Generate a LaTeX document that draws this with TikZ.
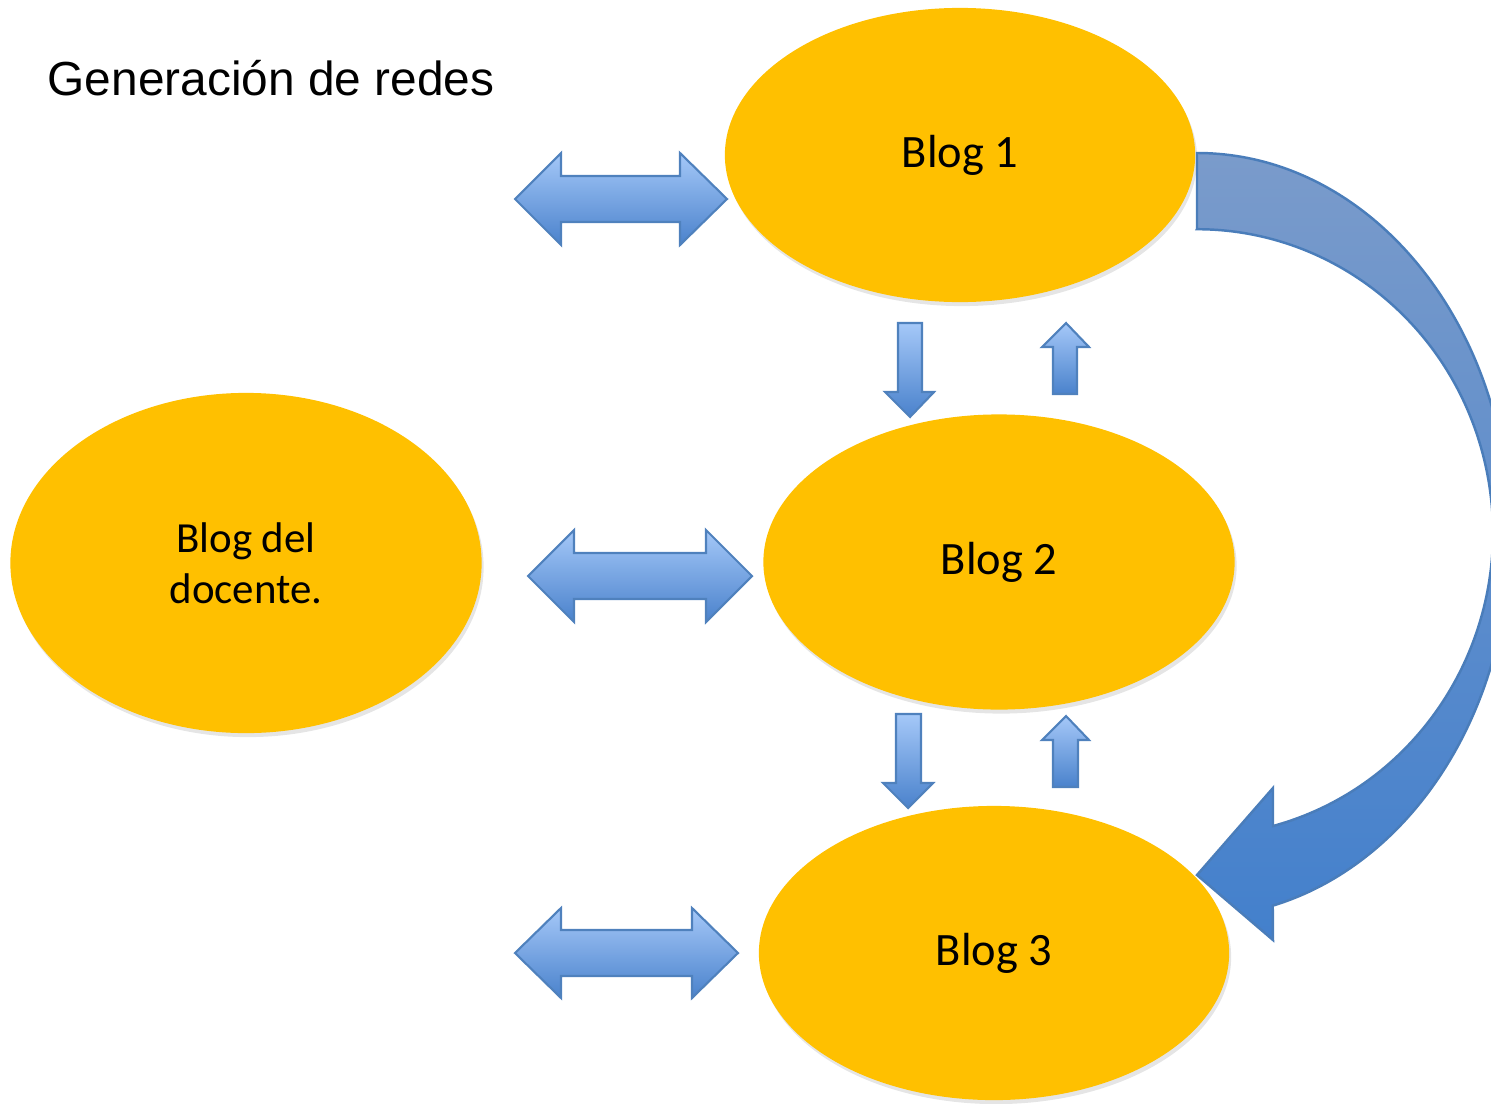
\documentclass[tikz,border=0pt]{standalone}
\usepackage{fontspec}
\setmainfont{Carlito}
\newfontfamily\arialf{Liberation Sans}
\usetikzlibrary{shapes.geometric}
\definecolor{gold}{HTML}{FFC000}
\definecolor{arrline}{HTML}{4F81BD}
\definecolor{arrlight}{HTML}{A5C8F8}
\definecolor{arrdark}{HTML}{4A82CC}
\definecolor{bigtop}{HTML}{7A9BCB}
\definecolor{bigbot}{HTML}{4380CC}
\definecolor{bigline}{HTML}{4A7DBA}
\begin{document}
\begin{tikzpicture}[x=0.01cm,y=-0.01cm,
  blob/.style={ellipse, fill=gold, draw=none, inner sep=0pt, align=center,
    font=\fontsize{13.2}{15.6}\selectfont},
  blobshadow/.style={ellipse, fill=black, opacity=0.10, draw=none, inner sep=0pt},
  blockarrow/.style={draw=arrline, line width=0.6pt, top color=arrlight, bottom color=arrdark, line join=miter},
  bigarrow/.style={draw=bigline, line width=0.7pt, top color=bigtop, bottom color=bigbot, line join=miter}]
\useasboundingbox (0,0) rectangle (1491,1103);

% title
\node[anchor=base west, inner sep=0pt, font=\arialf\fontsize{13.6}{16}\selectfont] (title) at (47,95) {Generación de redes};

% shadows
\node[blobshadow, minimum width=4.70cm, minimum height=2.94cm] (s1) at (962,159) {};
\node[blobshadow, minimum width=4.71cm, minimum height=2.95cm] (s2) at (1001,566) {};
\node[blobshadow, minimum width=4.70cm, minimum height=2.94cm] (s3) at (996,957) {};
\node[blobshadow, minimum width=4.71cm, minimum height=3.40cm] (s0) at (248,567) {};

% ellipses
\node[blob, minimum width=4.70cm, minimum height=2.94cm] (b1) at (960,155) {Blog 1};
\node[blob, minimum width=4.71cm, minimum height=2.95cm] (b2) at (999,562) {Blog 2};
\node[blob, minimum width=4.70cm, minimum height=2.94cm] (b3) at (994,953) {Blog 3};
\node[blob, minimum width=4.71cm, minimum height=3.40cm, font=\fontsize{12.2}{14.4}\selectfont] (b0) at (246,563) {Blog del\\docente.};

% horizontal double arrows
\draw[blockarrow] (515,199) -- (561,153) -- (561,176) -- (680,176) -- (680,153) -- (727,199)
  -- (680,245) -- (680,222) -- (561,222) -- (561,245) -- cycle;
\draw[blockarrow] (528,576) -- (574,530) -- (574,553) -- (706,553) -- (706,530) -- (752,576)
  -- (706,622) -- (706,599) -- (574,599) -- (574,622) -- cycle;
\draw[blockarrow] (515,953) -- (561,908) -- (561,930) -- (692,930) -- (692,908) -- (738,953)
  -- (692,998) -- (692,976) -- (561,976) -- (561,998) -- cycle;

% vertical arrows
\draw[blockarrow] (898,323) -- (922,323) -- (922,392) -- (934,392) -- (910,417) -- (885,392) -- (898,392) -- cycle;
\draw[blockarrow] (1066,323) -- (1089,347) -- (1077,347) -- (1077,394) -- (1053,394) -- (1053,347) -- (1042,347) -- cycle;
\draw[blockarrow] (896,714) -- (921,714) -- (921,783) -- (933,783) -- (908,808) -- (883,783) -- (896,783) -- cycle;
\draw[blockarrow] (1066,716) -- (1089,740) -- (1078,740) -- (1078,787) -- (1053,787) -- (1053,740) -- (1042,740) -- cycle;

% big curved arrow from Blog 1 to Blog 3
\draw[bigarrow] (1197,229) -- (1197,153)
  arc[start angle=-90, end angle=76, x radius=313, y radius=382]
  -- (1273,940) -- (1197,875) -- (1273,788) -- (1273,826)
  arc[start angle=75.1, end angle=-90, x radius=296, y radius=303.5]
  -- cycle;
\end{tikzpicture}
\end{document}
